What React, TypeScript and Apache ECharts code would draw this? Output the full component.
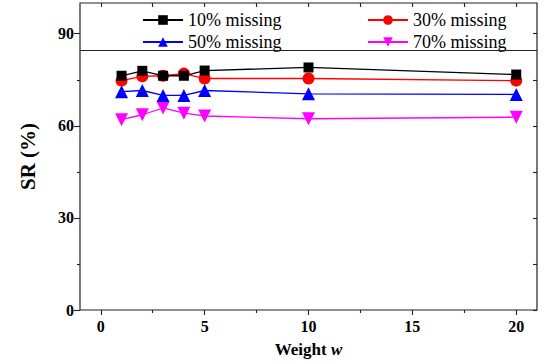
import React, { useEffect, useRef } from "react";
import * as echarts from "echarts";

const weights = [1, 2, 3, 4, 5, 10, 20];
const miss10 = [76.3, 77.9, 76.3, 76.3, 78.0, 79.0, 76.7];
const miss30 = [74.7, 76.1, 76.3, 77.0, 75.4, 75.4, 74.7];
const miss50 = [71.1, 71.5, 69.9, 69.9, 71.5, 70.4, 70.2];
const miss70 = [62.0, 63.6, 65.8, 64.1, 63.2, 62.3, 62.8];
const seriesNames = ["10% missing", "30% missing", "50% missing", "70% missing"];
const xTicks = [0, 5, 10, 15, 20];
const xMinor = [2.5, 7.5, 12.5, 17.5];
const yTicks = [0, 30, 60, 90];
const yMinor = [15, 45, 75];
const legendBoxBottom = 84.5;

const FONT = "Liberation Serif";

export default function App() {
  const ref = useRef<HTMLDivElement>(null);
  useEffect(() => {
    document.body.style.margin = "0";
    if (!ref.current) return;
    const chart = echarts.init(ref.current, null, { renderer: "svg" });
    const pair = (ys: number[]) => weights.map((w, i) => [w, ys[i]]);
    const noLine = { show: false, onZero: false };
    const baseX = { type: "value", min: -1, max: 21, gridIndex: 0, splitLine: { show: false } };
    const baseY = { type: "value", min: 0, max: 100, gridIndex: 0, splitLine: { show: false } };
    const tickColor = { color: "#222", width: 1.1 };
    const colors = ["#000000", "#ff0000", "#0000ff", "#ff00ff"];
    const symbols = ["rect", "circle", "triangle", "path://M0,0 L10,0 L5,9 Z"];
    const sizes = [10, 12, 13, 13];
    const data = [miss10, miss30, miss50, miss70];
    const legendPos = [
      { left: 142, top: 11 },
      { left: 367, top: 11 },
      { left: 142, top: 33 },
      { left: 367, top: 33 },
    ];
    chart.setOption({
      animation: false,
      backgroundColor: "#ffffff",
      textStyle: { fontFamily: FONT },
      grid: { left: 80, right: 7, top: 3, bottom: 54, show: true, borderColor: "#222", borderWidth: 1.2 },
      xAxis: [
        {
          ...baseX,
          position: "bottom",
          name: "{a|Weight }{b|w}",
          nameLocation: "middle",
          nameGap: 31,
          nameTextStyle: {
            fontFamily: FONT,
            rich: {
              a: { fontFamily: FONT, fontWeight: "bold", fontSize: 17, color: "#000" },
              b: { fontFamily: FONT, fontWeight: "bold", fontStyle: "italic", fontSize: 17, color: "#000" },
            },
          },
          axisLine: noLine,
          axisTick: { show: true, inside: false, length: 5, customValues: xTicks, lineStyle: tickColor },
          axisLabel: { customValues: xTicks, fontFamily: FONT, fontWeight: "bold", fontSize: 16, color: "#000", margin: 8 },
        },
        {
          ...baseX,
          position: "bottom",
          axisLine: noLine,
          axisTick: { show: true, inside: false, length: 3, customValues: xMinor, lineStyle: tickColor },
          axisLabel: { show: false },
        },
        {
          ...baseX,
          position: "top",
          axisLine: noLine,
          axisTick: { show: true, inside: true, length: 4, customValues: [...xTicks, ...xMinor], lineStyle: tickColor },
          axisLabel: { show: false },
        },
      ],
      yAxis: [
        {
          ...baseY,
          position: "left",
          name: "SR (%)",
          nameLocation: "middle",
          nameGap: 42,
          nameTextStyle: { fontFamily: FONT, fontWeight: "bold", fontSize: 21, color: "#000" },
          axisLine: noLine,
          axisTick: { show: true, inside: false, length: 6, customValues: yTicks, lineStyle: tickColor },
          axisLabel: { customValues: yTicks, fontFamily: FONT, fontWeight: "bold", fontSize: 16, color: "#000", margin: 6 },
        },
        {
          ...baseY,
          position: "right",
          axisLine: noLine,
          axisTick: { show: true, inside: true, length: 4, customValues: [...yTicks, ...yMinor], lineStyle: tickColor },
          axisLabel: { show: false },
        },
        {
          ...baseY,
          position: "left",
          axisLine: noLine,
          axisTick: { show: true, inside: false, length: 3, customValues: yMinor, lineStyle: tickColor },
          axisLabel: { show: false },
        },
      ],
      legend: seriesNames.map((n, i) => ({
        data: [n],
        left: legendPos[i].left,
        top: legendPos[i].top,
        orient: "horizontal",
        itemWidth: 40,
        itemHeight: 12,
        itemGap: 0,
        padding: 0,
        textStyle: { fontFamily: FONT, fontSize: 18, color: "#000" },
      })),
      series: seriesNames.map((n, i) => ({
        name: n,
        type: "line",
        data: pair(data[i]),
        symbol: symbols[i],
        symbolSize: sizes[i],
        color: colors[i],
        lineStyle: { color: colors[i], width: 1.3 },
        itemStyle: { color: colors[i] },
        z: 5 - i,
        markLine:
          i === 0
            ? {
                silent: true,
                symbol: "none",
                label: { show: false },
                lineStyle: { color: "#222", width: 1.2, type: "solid" },
                data: [{ yAxis: legendBoxBottom }],
              }
            : undefined,
      })),
    });
    return () => chart.dispose();
  }, []);
  return <div ref={ref} style={{ width: 544, height: 364 }} />;
}
